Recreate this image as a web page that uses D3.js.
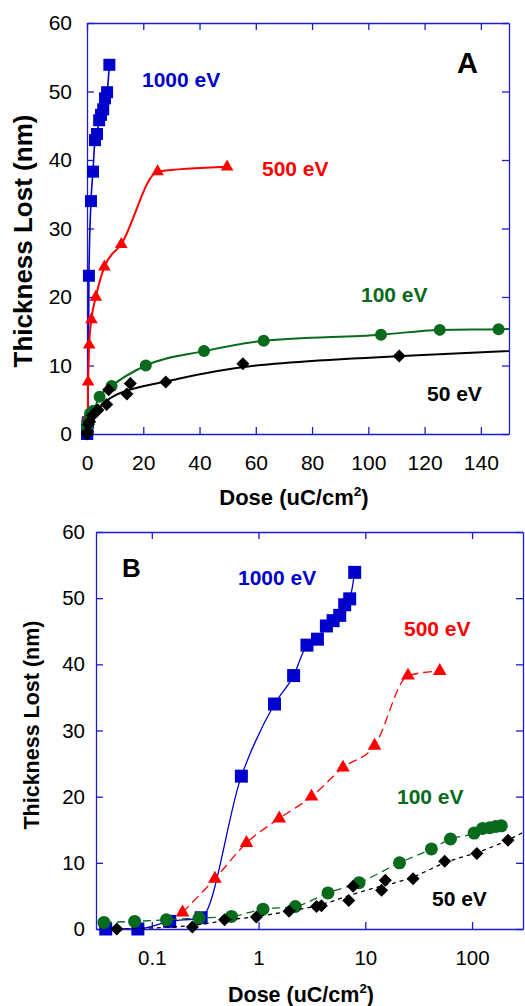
<!DOCTYPE html>
<html>
<head>
<meta charset="utf-8">
<title>Thickness lost vs dose</title>
<style>
  html, body { margin: 0; padding: 0; background: #fff; }
  svg { display: block; font-family: "Liberation Sans", Arial, sans-serif; }
  .axis path, .axis line { stroke: #1c1cd0; stroke-width: 1.3px; }
  .axis text { fill: #000; }
  .lbl { font-weight: bold; }
</style>
</head>
<body>
<svg width="525" height="1006"></svg>
<script src="https://cdn.jsdelivr.net/npm/d3@7"></script>
<script>
// values (dose in uC/cm2, thickness in nm)
const dose1000  = [0.037, 0.074, 0.147, 0.29, 0.69, 1.41, 2.13, 2.84, 3.56, 4.32, 4.99, 5.76, 6.41, 7.14, 7.95];
const thick1000 = [0, 0, 1.15, 1.7, 23.1, 34, 38.3, 42.9, 43.8, 45.8, 46.6, 47.4, 49, 49.9, 53.9];

const dose500  = [0.194, 0.39, 0.77, 1.56, 3.13, 6.18, 12.2, 25.1, 49.8];
const thick500 = [2.5, 7.6, 13, 16.7, 20, 24.4, 27.7, 38.3, 39];

const dose100  = [0.0356, 0.069, 0.137, 0.277, 0.557, 1.10, 2.21, 4.47, 8.74, 20.9, 41.6, 62.8, 104.5, 125.4, 146.3, 167.2, 188.1];
const thick100 = [1.0, 1.15, 1.4, 1.65, 1.9, 3.0, 3.4, 5.45, 7.0, 10.0, 12.1, 13.6, 14.5, 15.2, 15.3, 15.5, 15.6];

const dose50  = [0.047, 0.24, 0.48, 0.955, 1.93, 3.49, 3.88, 7.0, 7.68, 14.2, 15.4, 28, 55.4, 111, 217];
const thick50 = [0, 0.3, 1.4, 1.8, 2.7, 3.4, 3.5, 4.3, 6.45, 5.85, 7.36, 7.6, 10.25, 11.4, 13.4];

// trend line drawn through the 50 eV points
const fit50Dose  = [0.047, 0.24, 0.48, 0.955, 1.93, 3.7, 7.3, 14.8, 28, 55.4, 111, 217, 300];
const fit50Thick = [0, 0.3, 1.4, 1.8, 2.7, 3.45, 5.2, 6.6, 7.6, 10.25, 11.4, 13.4, 14.6];

const yTicks = [0, 10, 20, 30, 40, 50, 60];
const xTicksLin = [0, 20, 40, 60, 80, 100, 120, 140];
const xTicksLog = [0.1, 1, 10, 100];

const zip = (a, b) => a.map((d, i) => ({x: d, y: b[i]}));

const series = [
  {name: "1000 eV", color: "#0000cc", shape: "square", pts: zip(dose1000, thick1000), line: zip(dose1000, thick1000), dashB: null},
  {name: "500 eV",  color: "#ff0000", shape: "triangle", pts: zip(dose500, thick500), line: zip(dose500, thick500), dashB: "9,5"},
  {name: "100 eV",  color: "#086a1c", shape: "circle", pts: zip(dose100, thick100), line: zip(dose100, thick100), dashB: "8,5"},
  {name: "50 eV",   color: "#000000", shape: "diamond", pts: zip(dose50, thick50), line: zip(fit50Dose, fit50Thick), dashB: "4,4"}
];

const svg = d3.select("svg");

function symbolFor(shape, s) {
  if (shape === "square") return d3.symbol(d3.symbolSquare, s * s)();
  if (shape === "triangle") return d3.symbol(d3.symbolTriangle, 0.48 * s * s)();
  if (shape === "circle") return d3.symbol(d3.symbolCircle, Math.PI * s * s / 4)();
  return d3.symbol(d3.symbolSquare, s * s * 0.5)();
}

function panel(p) {
  const g = svg.append("g");
  const x = p.x, y = p.y;
  const [x0, x1] = x.range(), [y0, y1] = y.range();

  g.append("defs").append("clipPath").attr("id", p.id)
    .append("rect").attr("x", x0).attr("y", y1).attr("width", x1 - x0).attr("height", y0 - y1);

  // frame + inward ticks
  g.append("g").attr("class", "axis").attr("transform", `translate(0,${y0})`)
    .call(d3.axisBottom(x).tickValues(p.xTicks).tickFormat(p.xFmt).tickSize(-7).tickSizeOuter(0).tickPadding(p.xPad))
    .selectAll("text").attr("font-size", p.fs);
  g.append("g").attr("class", "axis").attr("transform", `translate(0,${y1})`)
    .call(d3.axisTop(x).tickValues(p.xTicks).tickFormat("").tickSize(-7).tickSizeOuter(0));
  g.append("g").attr("class", "axis").attr("transform", `translate(${x0},0)`)
    .call(d3.axisLeft(y).tickValues(yTicks).tickSize(-7).tickSizeOuter(0).tickPadding(p.yPad))
    .selectAll("text").attr("font-size", p.fs);
  g.append("g").attr("class", "axis").attr("transform", `translate(${x1},0)`)
    .call(d3.axisRight(y).tickValues(yTicks).tickFormat("").tickSize(-7).tickSizeOuter(0));
  g.selectAll(".axis text").attr("font-family", null);

  series.forEach((s, i) => {
    const line = d3.line().x(d => x(d.x)).y(d => y(d.y))
      .curve(s.shape === "diamond" ? d3.curveBasis : d3.curveMonotoneX);
    g.append("path").datum(s.line)
      .attr("clip-path", `url(#${p.id})`)
      .attr("fill", "none").attr("stroke", s.color)
      .attr("stroke-width", p.lw[i])
      .attr("stroke-dasharray", p.dashed ? s.dashB : null)
      .attr("d", line);
    g.append("g").selectAll("path")
      .data(s.pts.filter(d => d.x >= x.domain()[0] && d.x <= x.domain()[1]))
      .join("path")
      .attr("transform", d => `translate(${x(d.x)},${y(d.y)})` + (s.shape === "diamond" ? " rotate(45)" : ""))
      .attr("d", symbolFor(s.shape, p.ms[i]))
      .attr("fill", s.color);
  });

  // series labels
  p.labels.forEach((l, i) => {
    g.append("text").attr("class", "lbl").attr("x", l[0]).attr("y", l[1])
      .attr("font-size", p.lfs).attr("fill", series[i].color).text(series[i].name);
  });
  g.append("text").attr("class", "lbl").attr("x", p.tag[0]).attr("y", p.tag[1])
    .attr("font-size", p.tag[2]).text(p.tagText);

  // axis titles
  g.append("text").attr("class", "lbl")
    .attr("transform", `translate(${p.yTitle[0]},${p.yTitle[1]}) rotate(-90)`)
    .attr("text-anchor", "middle").attr("dy", "0.35em").attr("font-size", p.yTitle[2])
    .text("Thickness Lost (nm)");
  const xt = g.append("text").attr("class", "lbl")
    .attr("x", p.xTitle[0]).attr("y", p.xTitle[1])
    .attr("text-anchor", "middle").attr("font-size", p.xTitle[2]);
  xt.append("tspan").text("Dose (uC/cm");
  xt.append("tspan").attr("font-size", p.xTitle[2] * 0.62).attr("dy", -p.xTitle[2] * 0.42).text("2");
  xt.append("tspan").attr("dy", p.xTitle[2] * 0.42).text(")");
}

panel({
  id: "clipA",
  x: d3.scaleLinear().domain([0, 150]).range([87, 509]),
  y: d3.scaleLinear().domain([0, 60]).range([434, 23]),
  xTicks: xTicksLin, xFmt: d3.format("d"), xPad: 21, yPad: 15, fs: 21,
  dashed: false, lw: [1.6, 2, 2, 2], ms: [12, 12, 12, 13],
  labels: [[142, 87], [262, 176], [361, 302], [427, 401]], lfs: 21,
  tag: [457, 73, 29], tagText: "A",
  yTitle: [23, 241, 26], xTitle: [294, 505, 22]
});

panel({
  id: "clipB",
  x: d3.scaleLog().domain([0.03, 300]).range([96, 523]),
  y: d3.scaleLinear().domain([0, 60]).range([929, 532]),
  xTicks: xTicksLog, xFmt: d => d3.format("~g")(d), xPad: 21, yPad: 11, fs: 20.5,
  dashed: true, lw: [1.3, 1.3, 1.3, 1.3], ms: [13, 13, 13, 13],
  labels: [[238, 585], [404, 636], [397, 804], [432, 906]], lfs: 21,
  tag: [122, 577, 26], tagText: "B",
  yTitle: [31, 725, 21.5], xTitle: [301, 1002, 21.5]
});
</script>
</body>
</html>
